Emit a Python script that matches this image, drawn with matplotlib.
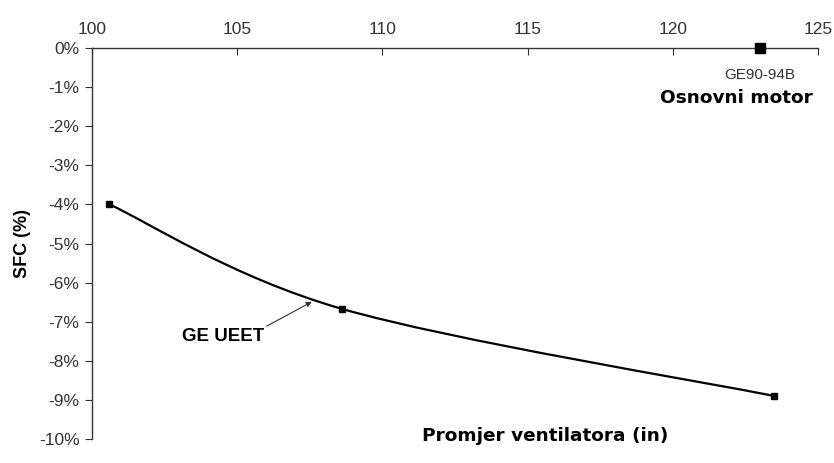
import matplotlib
matplotlib.use("Agg")
import matplotlib.pyplot as plt
from matplotlib.path import Path
from matplotlib.patches import PathPatch
from matplotlib.ticker import FuncFormatter

# Data
fan_diameter = [100.6, 108.6, 123.5]
sfc_change = [-4.0, -6.67, -8.9]
base_engine_x = [123.0]
base_engine_y = [0.0]
x_ticks = [100, 105, 110, 115, 120, 125]
y_ticks = [0, -1, -2, -3, -4, -5, -6, -7, -8, -9, -10]

plt.rcParams['font.family'] = ['Liberation Sans', 'DejaVu Sans']

fig = plt.figure(figsize=(8.34, 4.63), dpi=100)
ax = fig.add_axes([0.1103, 0.0518, 0.8705, 0.8445])
ax.set_xlim(100, 125)
ax.set_ylim(-10, 0)

# Smoothed line (Catmull-Rom style Bezier through data points)
pts = list(zip(fan_diameter, sfc_change))
verts = [pts[0]]
codes = [Path.MOVETO]
n = len(pts)
for i in range(n - 1):
    p0 = pts[i - 1] if i > 0 else pts[i]
    p1 = pts[i]
    p2 = pts[i + 1]
    p3 = pts[i + 2] if i + 2 < n else pts[i + 1]
    c1 = (p1[0] + (p2[0] - p0[0]) / 6, p1[1] + (p2[1] - p0[1]) / 6)
    c2 = (p2[0] - (p3[0] - p1[0]) / 6, p2[1] - (p3[1] - p1[1]) / 6)
    verts += [c1, c2, p2]
    codes += [Path.CURVE4] * 3
ax.add_patch(PathPatch(Path(verts, codes), facecolor='none', edgecolor='black', lw=1.6))
ax.plot(fan_diameter, sfc_change, linestyle='none', marker='s', color='black', markersize=4)
ax.plot(base_engine_x, base_engine_y, linestyle='none', marker='s', color='black',
        markersize=7, clip_on=False, zorder=5)

# Axes styling
ax.xaxis.tick_top()
ax.spines['right'].set_visible(False)
ax.spines['bottom'].set_visible(False)
ax.spines['top'].set_linewidth(1.0)
ax.spines['left'].set_linewidth(1.0)
ax.spines['top'].set_color('#333333')
ax.spines['left'].set_color('#333333')
ax.set_xticks(x_ticks)
ax.set_yticks(y_ticks)
ax.yaxis.set_major_formatter(FuncFormatter(lambda v, p: f"{int(round(v))}%"))
ax.tick_params(axis='x', direction='in', length=5, labelsize=12.5, colors='#333333', pad=8)
ax.tick_params(axis='y', direction='out', length=5, labelsize=12.5, colors='#333333', pad=4)

ax.set_ylabel('SFC (%)', fontsize=13, fontweight='bold', labelpad=6)

ax.text(123.0, -0.68, 'GE90-94B', ha='center', va='center', fontsize=11, color='#333333')
ax.text(122.2, -1.28, 'Osnovni motor', ha='center', va='center', fontsize=13.3,
        fontweight='bold', family=['DejaVu Sans'])
ax.text(115.6, -9.93, 'Promjer ventilatora (in)', ha='center', va='center', fontsize=13.3,
        fontweight='bold', family=['DejaVu Sans'])
ax.annotate('GE UEET', xy=(107.57, -6.49), xytext=(104.5, -7.37), ha='center', va='center',
            fontsize=13.5, fontweight='bold',
            arrowprops=dict(arrowstyle='-|>', color='#333333', lw=0.8,
                            shrinkA=0, shrinkB=0, mutation_scale=8,
                            relpos=(1.0, 1.0)))

fig.savefig('out.png', dpi=100)
